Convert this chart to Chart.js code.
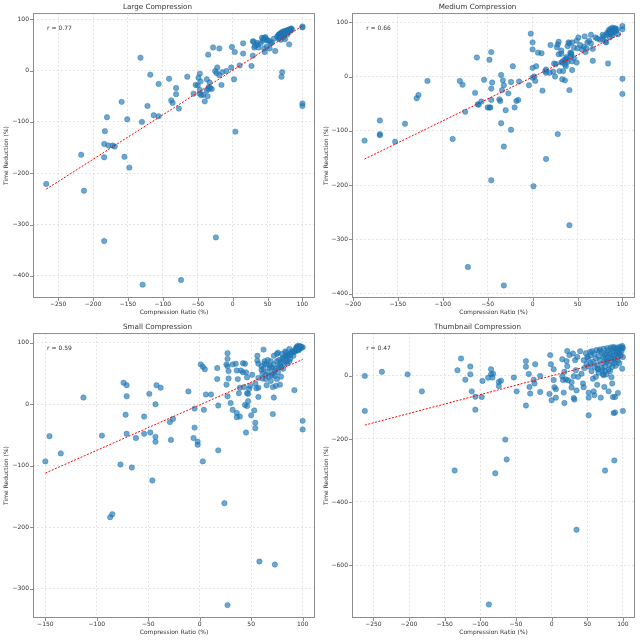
<!DOCTYPE html>
<html>
<head>
<meta charset="utf-8">
<script src="https://cdn.jsdelivr.net/npm/chart.js@4.4.1/dist/chart.umd.min.js"></script>
<style>
  body { margin: 0; background: #fff; }
  #grid { display: grid; grid-template-columns: 320px 320px; width: 640px; height: 640px; }
  canvas { display: block; }
</style>
</head>
<body>
<div id="grid">
  <canvas id="c-large" width="320" height="320"></canvas>
  <canvas id="c-medium" width="320" height="320"></canvas>
  <canvas id="c-small" width="320" height="320"></canvas>
  <canvas id="c-thumb" width="320" height="320"></canvas>
</div>
<script>
// --- DATA: [compression ratio %, time reduction %] ---
const largePoints = [[-267,-221],[-217,-164],[-213,-234],[-184,-332],[-184,-169],[-184,-143],[-183,-118],[-180,-91],[-178,-146],[-172,-146],[-169,-148],[-159,-61],[-155,-168],[-151,-95],[-148,-189],[-132,25],[-130,-100],[-129,-417],[-122,-69],[-118,-8],[-113,-87],[-106,-89],[-106,-26],[-91,-16],[-88,-58],[-86,-63],[-81,-34],[-81,-46],[-77,-74],[-74,-408],[-65,-12],[-56,-45],[-53,-28],[-50,-29],[-49,-14],[-47,-6],[-46,-21],[-47,-38],[-47,-45],[-45,-48],[-42,-47],[-40,-60],[-37,-17],[-37,-39],[-36,-50],[-35,-36],[-34,-32],[-33,-23],[-32,-34],[-30,-36],[-28,45],[-35,31],[-25,-1],[-22,6],[-23,-5],[-19,-9],[-19,43],[-16,-28],[-15,-3],[-9,-1],[-24,-325],[-2,6],[-1,46],[2,-17],[3,36],[4,-119],[10,10],[15,33],[15,53],[27,9],[29,57],[29,29],[31,45],[32,48],[36,50],[40,53],[42,64],[43,58],[45,43],[46,36],[46,64],[48,60],[49,47],[53,43],[56,55],[59,62],[61,38],[67,71],[69,60],[70,-12],[71,-3],[75,61],[81,51],[100,86],[100,84],[100,-64],[100,-69],[47,65],[52,58],[55,53],[35,54],[30,56],[37,45],[50,59],[44,62],[64,66],[65,68],[66,70],[66,64],[67,67],[68,72],[68,69],[69,66],[69,73],[70,70],[70,68],[71,74],[71,71],[72,69],[72,76],[73,72],[74,74],[74,70],[75,77],[76,75],[76,73],[77,78],[78,76],[79,79],[80,77],[80,74],[81,80],[82,78],[83,81],[83,79],[84,82],[85,80],[66,62],[73,65],[78,70]];
const mediumPoints = [[-187,-118],[-170,-81],[-170,-106],[-170,-108],[-153,-120],[-142,-87],[-129,-40],[-127,-34],[-117,-8],[-89,-115],[-81,-8],[-78,-15],[-75,-65],[-72,-351],[-64,-30],[-62,35],[-61,-51],[-60,-52],[-57,-46],[-54,-6],[-50,-57],[-48,-57],[-48,31],[-47,-57],[-46,-22],[-46,-43],[-46,45],[-45,-11],[-46,-191],[-37,-42],[-36,-45],[-35,3],[-35,-86],[-34,-25],[-33,-7],[-32,-16],[-32,-129],[-32,-385],[-30,-62],[-27,-31],[-24,-10],[-24,-98],[-22,19],[-20,-57],[-18,-45],[-16,-43],[-15,-9],[-4,-16],[-2,79],[0,63],[0,50],[0,16],[0,-2],[2,0],[1,-202],[3,-8],[4,19],[6,44],[10,43],[11,-26],[14,10],[15,13],[15,7],[15,-152],[20,58],[19,7],[23,9],[25,0],[26,23],[27,54],[28,59],[29,64],[29,41],[28,-106],[30,10],[32,26],[32,48],[32,42],[33,-5],[34,10],[36,-7],[37,30],[37,19],[39,56],[40,63],[42,44],[41,-25],[41,-274],[43,43],[44,63],[44,12],[46,53],[49,26],[49,66],[50,52],[51,72],[53,58],[55,50],[58,74],[59,45],[61,63],[63,66],[65,77],[65,61],[67,51],[67,29],[70,72],[78,77],[78,69],[82,63],[84,24],[83,81],[85,86],[100,93],[100,87],[100,-4],[100,-32],[41,61],[43,41],[24,24],[35,30],[37,33],[39,27],[42,37],[33,27],[36,22],[44,28],[46,34],[38,36],[79,74],[81,64],[82,76],[84,79],[85,82],[86,84],[87,78],[87,88],[88,85],[88,80],[89,90],[89,83],[90,87],[90,86],[91,88],[91,82],[92,85],[92,89],[93,84],[94,87],[95,78],[86,72],[89,76],[72,70],[75,68],[57,55],[60,52]];
const smallPoints = [[-150,-93],[-146,-52],[-135,-80],[-113,11],[-95,-51],[-87,-184],[-85,-179],[-77,-98],[-74,35],[-71,31],[-72,-17],[-71,13],[-71,-48],[-66,-103],[-62,-55],[-54,-20],[-54,-48],[-49,17],[-48,-46],[-46,-124],[-43,0],[-43,-53],[-43,-61],[-42,31],[-38,27],[-29,-29],[-28,-58],[-26,-24],[-11,21],[-5,-7],[-5,-38],[-6,-55],[-2,-61],[-2,-66],[1,65],[3,61],[5,57],[4,-9],[3,-93],[6,16],[11,16],[17,59],[17,41],[18,-2],[18,-75],[24,-161],[27,83],[27,74],[26,65],[27,62],[26,32],[27,13],[28,42],[28,54],[27,-327],[30,2],[32,-9],[32,65],[35,66],[36,55],[36,-14],[36,-21],[37,41],[38,18],[39,27],[39,-20],[40,55],[42,67],[42,52],[43,28],[44,-1],[44,66],[45,52],[46,18],[46,44],[45,-46],[46,-3],[47,5],[47,17],[48,25],[49,30],[50,-18],[51,48],[53,-10],[54,-30],[54,-39],[54,34],[55,26],[56,79],[56,71],[57,66],[57,27],[57,12],[57,43],[58,-256],[60,56],[61,42],[61,50],[62,89],[63,66],[64,41],[65,31],[66,53],[68,59],[69,70],[70,47],[71,-16],[71,28],[72,11],[73,-261],[73,55],[74,30],[75,41],[76,84],[77,61],[78,32],[79,45],[80,74],[81,58],[83,86],[84,79],[85,67],[87,90],[88,74],[90,84],[92,23],[93,86],[94,93],[95,89],[97,95],[97,91],[98,93],[100,93],[100,-27],[100,-41],[93,90],[94,88],[95,93],[96,91],[97,90],[98,94],[99,92],[95,95],[96,88],[92,87],[60,62],[62,58],[65,65],[68,63],[70,60],[72,65],[75,70],[77,72],[79,68],[81,76],[83,75],[85,78],[86,81],[88,80],[89,84],[90,86],[91,79],[84,70],[78,64],[74,58],[71,50],[67,45],[64,48],[69,38],[73,46],[76,52],[79,60],[82,66],[87,70],[66,72],[63,70],[80,82],[84,84],[75,82],[72,79]];
const thumbPoints = [[-262,0],[-262,-111],[-238,13],[-202,5],[-182,-49],[-136,-300],[-132,18],[-127,55],[-121,-12],[-114,30],[-114,5],[-112,-49],[-107,-66],[-107,-107],[-98,-67],[-97,-16],[-89,-6],[-88,-725],[-85,21],[-85,5],[-83,-5],[-82,7],[-79,-309],[-74,-19],[-74,-32],[-71,-15],[-65,-202],[-63,-265],[-53,-5],[-49,-49],[-36,47],[-36,29],[-36,-94],[-32,6],[-31,-35],[-30,-56],[-25,-12],[-24,-24],[-23,37],[-16,0],[-16,-51],[-2,66],[-1,37],[-3,-57],[0,-77],[3,21],[3,-13],[4,-36],[6,-69],[6,-42],[15,53],[15,-1],[16,-13],[17,-53],[18,-86],[18,13],[20,-11],[21,47],[22,79],[22,31],[23,-14],[25,66],[28,-37],[28,-20],[30,71],[31,-1],[31,-70],[32,-75],[33,50],[34,18],[35,-488],[35,-46],[36,60],[37,-3],[40,78],[42,7],[44,-24],[45,-36],[46,25],[49,38],[51,55],[52,-53],[52,-69],[52,-125],[54,76],[56,15],[58,-9],[59,-49],[60,-61],[62,-3],[64,-28],[65,23],[67,79],[69,-69],[72,5],[73,2],[74,-35],[75,-300],[77,44],[80,-49],[84,-4],[85,-24],[86,-67],[87,-118],[88,-268],[89,-116],[89,-67],[93,-54],[99,23],[100,-111],[99,95],[50,60],[55,65],[58,45],[60,70],[62,55],[64,35],[66,62],[68,50],[70,75],[72,40],[73,60],[74,68],[75,30],[76,55],[77,72],[78,48],[79,80],[80,62],[81,35],[82,70],[83,58],[84,85],[85,45],[86,75],[87,65],[88,88],[89,52],[90,78],[91,68],[92,90],[93,60],[94,82],[95,72],[96,92],[97,85],[98,78],[99,90],[100,88],[65,20],[70,25],[75,15],[80,20],[85,28],[90,32],[95,40],[60,28],[55,40],[45,50],[48,72],[52,30],[57,78],[63,82],[68,84],[73,86],[78,88],[83,90],[87,92],[91,85],[94,70],[97,65],[100,60],[88,40],[82,15],[77,5],[71,18],[66,10],[86,55],[93,48]];

// dashed red fit line ends
const largeFitX = [-267, 100], largeFitY = [-231, 87];
const mediumFitX = [-187, 100], mediumFitY = [-152, 80];
const smallFitX = [-150, 100], smallFitY = [-112, 73];
const thumbFitX = [-262, 100], thumbFitY = [-156, 60];

// axis limits and ticks
const largeXLim = [-286, 118], largeYLim = [-443, 112];
const mediumXLim = [-201, 114], mediumYLim = [-408, 117];
const smallXLim = [-162, 112], smallYLim = [-348, 116];
const thumbXLim = [-280, 117], thumbYLim = [-768, 136];
const largeXTicks = [-250, -200, -150, -100, -50, 0, 50, 100];
const largeYTicks = [-400, -300, -200, -100, 0, 100];
const mediumXTicks = [-200, -150, -100, -50, 0, 50, 100];
const mediumYTicks = [-400, -300, -200, -100, 0, 100];
const smallXTicks = [-150, -100, -50, 0, 50, 100];
const smallYTicks = [-300, -200, -100, 0, 100];
const thumbXTicks = [-250, -200, -150, -100, -50, 0, 50, 100];
const thumbYTicks = [-600, -400, -200, 0];

Chart.defaults.font.family = '"DejaVu Sans", sans-serif';
Chart.defaults.color = '#333';

const fmt = v => String(v).replace('-', '\u2212');

// frame (spines), tick marks and r label
const framePlugin = {
    id: 'frame',
    afterDraw(chart, args, opts) {
        const { ctx, chartArea: a, scales } = chart;
        ctx.save();
        ctx.strokeStyle = '#8c8c8c';
        ctx.lineWidth = 1;
        ctx.strokeRect(a.left + 0.5, a.top + 0.5, a.right - a.left - 1, a.bottom - a.top - 1);
        ctx.beginPath();
        scales.x.ticks.forEach(t => {
            const px = Math.round(scales.x.getPixelForValue(t.value)) + 0.5;
            ctx.moveTo(px, a.bottom); ctx.lineTo(px, a.bottom + 3);
        });
        scales.y.ticks.forEach(t => {
            const py = Math.round(scales.y.getPixelForValue(t.value)) + 0.5;
            ctx.moveTo(a.left - 3, py); ctx.lineTo(a.left, py);
        });
        ctx.stroke();
        ctx.fillStyle = '#333';
        ctx.font = '6px "DejaVu Sans"';
        ctx.textBaseline = 'top';
        ctx.fillText(opts.label, a.left + 0.05 * (a.right - a.left), a.top + 0.045 * (a.bottom - a.top));
        ctx.restore();
    }
};

function makeChart(id, title, points, fitX, fitY, xLim, yLim, xTicks, yTicks, rLabel, yWidth) {
    const gridOpts = { color: '#dedede', lineWidth: 0.8, drawTicks: false };
    return new Chart(document.getElementById(id), {
        type: 'scatter',
        data: {
            datasets: [
                {
                    data: fitX.map((x, i) => ({ x: x, y: fitY[i] })),
                    showLine: true,
                    borderColor: '#ff0000',
                    borderWidth: 1,
                    borderDash: [2, 1.5],
                    pointRadius: 0,
                    order: 0
                },
                {
                    data: points.map(p => ({ x: p[0], y: p[1] })),
                    pointRadius: 2.7,
                    backgroundColor: 'rgba(31,119,180,0.65)',
                    borderColor: 'rgba(31,119,180,0.85)',
                    borderWidth: 0.5,
                    order: 1
                }
            ]
        },
        options: {
            responsive: false,
            animation: false,
            layout: { padding: { left: 0, right: 5, top: 0, bottom: 0 } },
            plugins: {
                legend: { display: false },
                tooltip: { enabled: false },
                title: {
                    display: true, text: title, color: '#333',
                    font: { size: 7.2, weight: 'normal' },
                    padding: { top: 3, bottom: 1.4 }
                },
                frame: { label: rLabel }
            },
            scales: {
                x: {
                    type: 'linear', min: xLim[0], max: xLim[1],
                    afterBuildTicks: s => { s.ticks = xTicks.map(v => ({ value: v })); },
                    afterFit: s => { s.height = 22; },
                    grid: gridOpts,
                    border: { display: false, dash: [2, 2] },
                    ticks: { font: { size: 6 }, padding: 3, maxRotation: 0, callback: v => fmt(v) },
                    title: { display: true, text: 'Compression Ratio (%)', font: { size: 6 }, padding: { top: 0, bottom: 3.5 } }
                },
                y: {
                    type: 'linear', min: yLim[0], max: yLim[1],
                    afterBuildTicks: s => { s.ticks = yTicks.map(v => ({ value: v })); },
                    afterFit: s => { s.width = yWidth; },
                    grid: gridOpts,
                    border: { display: false, dash: [2, 2] },
                    ticks: { font: { size: 6 }, padding: 4, callback: v => fmt(v) },
                    title: { display: true, text: 'Time Reduction (%)', font: { size: 6 }, padding: { top: 2.4, bottom: 0 } }
                }
            }
        },
        plugins: [framePlugin]
    });
}

makeChart('c-large', 'Large Compression', largePoints, largeFitX, largeFitY, largeXLim, largeYLim, largeXTicks, largeYTicks, 'r = 0.77', 33);
makeChart('c-medium', 'Medium Compression', mediumPoints, mediumFitX, mediumFitY, mediumXLim, mediumYLim, mediumXTicks, mediumYTicks, 'r = 0.66', 32);
makeChart('c-small', 'Small Compression', smallPoints, smallFitX, smallFitY, smallXLim, smallYLim, smallXTicks, smallYTicks, 'r = 0.59', 33);
makeChart('c-thumb', 'Thumbnail Compression', thumbPoints, thumbFitX, thumbFitY, thumbXLim, thumbYLim, thumbXTicks, thumbYTicks, 'r = 0.47', 32);
</script>
</body>
</html>
